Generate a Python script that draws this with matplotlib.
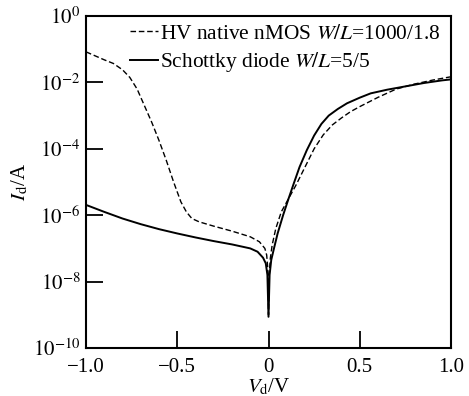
import numpy as np
import matplotlib
matplotlib.use('Agg')
import matplotlib.pyplot as plt
from matplotlib.ticker import NullLocator

# Times-like text
plt.rcParams['font.family'] = ['Liberation Serif', 'DejaVu Serif']
plt.rcParams['mathtext.fontset'] = 'stix'

# HV native nMOS (dashed), log10(Id/A)
nmos_vd = [-1.0, -0.95, -0.90, -0.85, -0.80, -0.76, -0.72, -0.68, -0.64, -0.60,
           -0.56, -0.52, -0.48, -0.45, -0.42, -0.38, -0.30, -0.20, -0.10, -0.05,
           -0.02, -0.01, -0.004, 0.0, 0.004, 0.01, 0.02, 0.04, 0.07, 0.10,
           0.15, 0.20, 0.25, 0.30, 0.35, 0.40, 0.45, 0.50, 0.60, 0.70,
           0.80, 0.90, 1.0]
nmos_log_id = [-1.08, -1.20, -1.32, -1.43, -1.62, -1.85, -2.20, -2.70, -3.20, -3.75,
               -4.35, -5.00, -5.60, -5.90, -6.10, -6.20, -6.33, -6.48, -6.65, -6.80,
               -7.00, -7.20, -7.60, -9.00, -7.80, -7.30, -6.90, -6.40, -5.90, -5.60,
               -5.10, -4.55, -4.00, -3.58, -3.28, -3.07, -2.88, -2.73, -2.45, -2.20,
               -2.05, -1.93, -1.83]

# Schottky diode (solid), log10(Id/A)
diode_vd = [-1.0, -0.9, -0.8, -0.7, -0.6, -0.5, -0.4, -0.3, -0.2, -0.1,
            -0.06, -0.03, -0.015, -0.006, 0.0, 0.006, 0.015, 0.03, 0.05, 0.08,
            0.11, 0.14, 0.17, 0.21, 0.25, 0.29, 0.33, 0.38, 0.43, 0.50,
            0.56, 0.65, 0.75, 0.85, 0.95, 1.0]
diode_log_id = [-5.69, -5.90, -6.10, -6.27, -6.42, -6.55, -6.67, -6.78, -6.88, -7.00,
                -7.10, -7.28, -7.45, -7.80, -9.06, -7.80, -7.35, -7.00, -6.55, -6.00,
                -5.50, -5.02, -4.55, -4.04, -3.60, -3.25, -3.00, -2.80, -2.63, -2.46,
                -2.33, -2.22, -2.12, -2.02, -1.94, -1.91]

x_ticks = [-1.0, -0.5, 0.0, 0.5, 1.0]
x_tick_labels = ['\u22121.0', '\u22120.5', '0', '0.5', '1.0']
y_decades = [0, -2, -4, -6, -8, -10]

fig = plt.figure(figsize=(4.69, 3.96), dpi=100)
ax = fig.add_axes([0.1834, 0.1212, 0.7782, 0.8384])

ax.plot(nmos_vd, 10.0 ** np.array(nmos_log_id), color='black', lw=1.0,
        dashes=(4, 2), label=r'HV native nMOS $W/L$=1000/1.8')
ax.plot(diode_vd, 10.0 ** np.array(diode_log_id), color='black', lw=1.4,
        label=r'Schottky diode $W/L$=5/5')

ax.set_yscale('log')
ax.set_xlim(-1.0, 1.0)
ax.set_ylim(1e-10, 1e0)
ax.set_xticks(x_ticks)
ax.set_xticklabels(x_tick_labels)
ax.set_yticks([10.0 ** d for d in y_decades])
ax.set_yticklabels([r'$10^{%d}$' % d if d < 0 else r'$10^{0}$' for d in y_decades])
ax.yaxis.set_minor_locator(NullLocator())

ax.tick_params(axis='both', direction='in', length=12, width=1.3,
               labelsize=15, top=False, right=False)
ax.tick_params(axis='x', pad=7)
ax.tick_params(axis='y', pad=4)
for s in ax.spines.values():
    s.set_linewidth(1.5)

ax.set_xlabel(r'$V_{\rm d}$/V', fontsize=15, labelpad=0)
ax.set_ylabel(r'$I_{\rm d}$/A', fontsize=15, labelpad=2)

ax.legend(loc='upper left', bbox_to_anchor=(0.085, 1.015), frameon=False,
          fontsize=15.4, handlelength=1.3, handletextpad=0.1, labelspacing=0.3,
          borderaxespad=0.2)

fig.savefig('out.png', dpi=100)
